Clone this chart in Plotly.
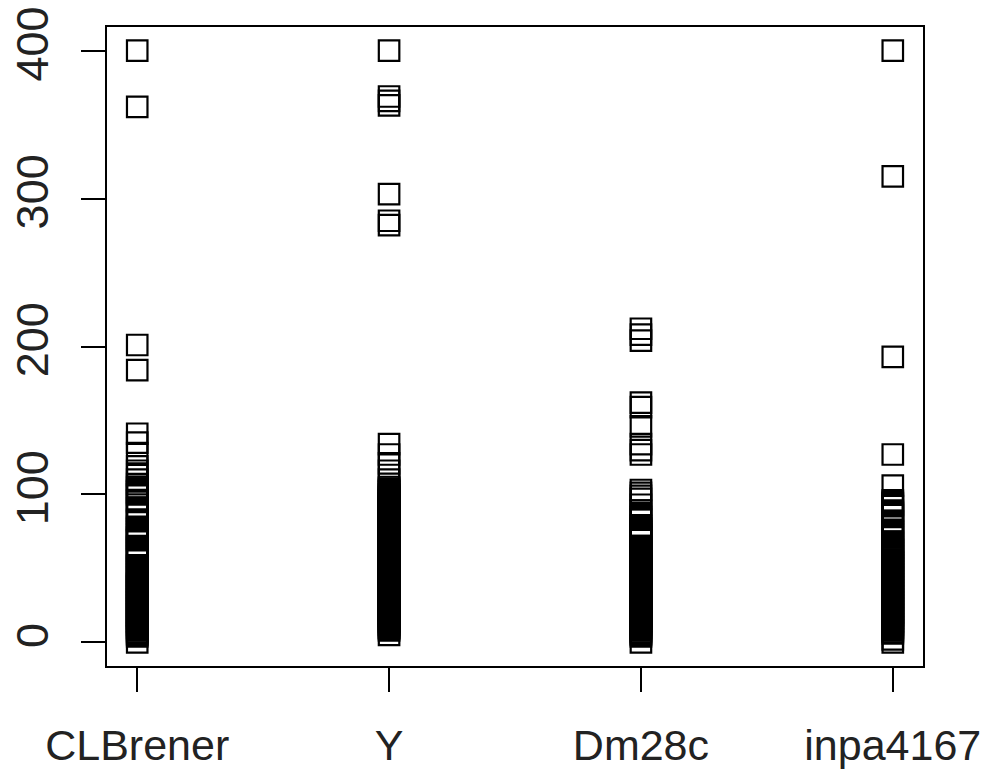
import plotly.graph_objects as go

# Strain names (x categories)
strains = ["CLBrener", "Y", "Dm28c", "inpa4167"]

# Values per strain
clbrener = [400, 362, 201, 184, 141, 135, 128, 119, 116, 113, 110, 107,
            105, 104, 103, 102, 101, 100, 96, 95, 91, 90, 89, 88, 87,
            83, 82, 78, 77, 76, 75, 74, 73, 72, 71, 70, 69, 65, 64, 63,
            62, 61, 60, 59, 58, 57, 56, 52, 51, 50, 49, 48, 47, 46, 45, 44,
            43, 42, 41, 40, 39, 38, 37, 36, 35, 34, 33, 32, 31, 30, 29, 28, 27,
            26, 25, 24, 23, 22, 21, 20, 19, 18, 17, 16, 15, 14, 13, 12, 11, 10,
            9, 8, 7, 6, 5, 4, 0]

y_strain = [400, 369, 366, 363, 303, 285, 282, 134, 127, 121, 116, 110,
            105, 104, 103, 102, 101, 100, 99, 98, 97, 96, 95, 94, 93, 92, 91,
            90, 89, 88, 87, 86, 85, 84, 83, 82, 81, 80, 79, 78, 77, 76, 75, 74,
            73, 72, 71, 70, 69, 68, 67, 66, 65, 64, 63, 62, 61, 60, 59, 58, 57,
            56, 55, 54, 53, 52, 51, 50, 49, 48, 47, 46, 45, 44, 43, 42, 41, 40,
            39, 38, 37, 36, 35, 34, 33, 32, 31, 30, 29, 28, 27, 26, 25, 24, 23,
            22, 21, 20, 19, 18, 17, 16, 15, 14, 13, 12, 11, 10, 9, 8, 5]

dm28c = [212, 208, 204, 162, 159, 146, 134, 130, 127,
         103, 101, 99, 97, 93, 89, 86, 85, 84, 83, 79, 78, 77, 76, 75, 74,
         73, 72, 71, 70, 69, 65, 64, 63, 62, 61, 60, 59, 58, 57, 56, 55,
         54, 53, 52, 51, 50, 49, 48, 47, 46, 45, 44, 43, 42, 41, 40, 39, 38,
         37, 36, 35, 34, 33, 32, 31, 30, 29, 28, 27, 26, 25, 24, 23, 22, 21,
         20, 19, 18, 17, 16, 15, 14, 13, 12, 11, 10, 9, 8, 7, 6, 5, 4, 0]

inpa4167 = [400, 315, 193, 127, 106,
            96, 95, 94, 93, 92, 89, 88, 87, 86, 82, 81, 80, 79, 76, 75, 74, 73,
            72, 71, 68, 67, 66, 65, 64, 63, 62, 61, 60, 59, 58, 57, 56, 55, 54,
            53, 52, 51, 50, 49, 48, 47, 46, 45, 44, 43, 42, 41, 40, 39, 38, 37,
            36, 35, 34, 33, 32, 31, 30, 29, 28, 27, 26, 25, 24, 23, 22, 21, 20,
            19, 18, 17, 16, 15, 14, 13, 12, 11, 10, 9, 8, 7, 6, 2, 0]

groups = [clbrener, y_strain, dm28c, inpa4167]

y_ticks = [0, 100, 200, 300, 400]

FONT = "Liberation Sans, Arial, sans-serif"

fig = go.Figure()
for i, vals in enumerate(groups):
    fig.add_trace(go.Scatter(
        x=[i + 1] * len(vals),
        y=vals,
        mode="markers",
        marker=dict(symbol="square-open", size=20.5, color="black",
                    line=dict(width=2.2, color="black")),
        showlegend=False,
        hoverinfo="y",
    ))

axis_common = dict(
    showgrid=False, zeroline=False, automargin=False,
    showline=True, linecolor="black", linewidth=2, mirror=True,
    ticks="outside", ticklen=24, tickwidth=2, tickcolor="black",
)

fig.update_layout(
    width=985, height=770,
    margin=dict(l=107, r=62, t=27, b=104),
    paper_bgcolor="white", plot_bgcolor="white",
    xaxis=dict(range=[0.88, 4.12], tickvals=[1, 2, 3, 4], ticktext=strains,
               ticklabelstandoff=16,
               tickfont=dict(family=FONT, size=43, color="#222222"),
               **axis_common),
    yaxis=dict(range=[-16, 416], tickvals=y_ticks,
               ticktext=[str(t) for t in y_ticks], tickangle=-90,
               ticklabelstandoff=15,
               tickfont=dict(family=FONT, size=45, color="#222222"),
               **axis_common),
)

fig.write_html("out.html")
